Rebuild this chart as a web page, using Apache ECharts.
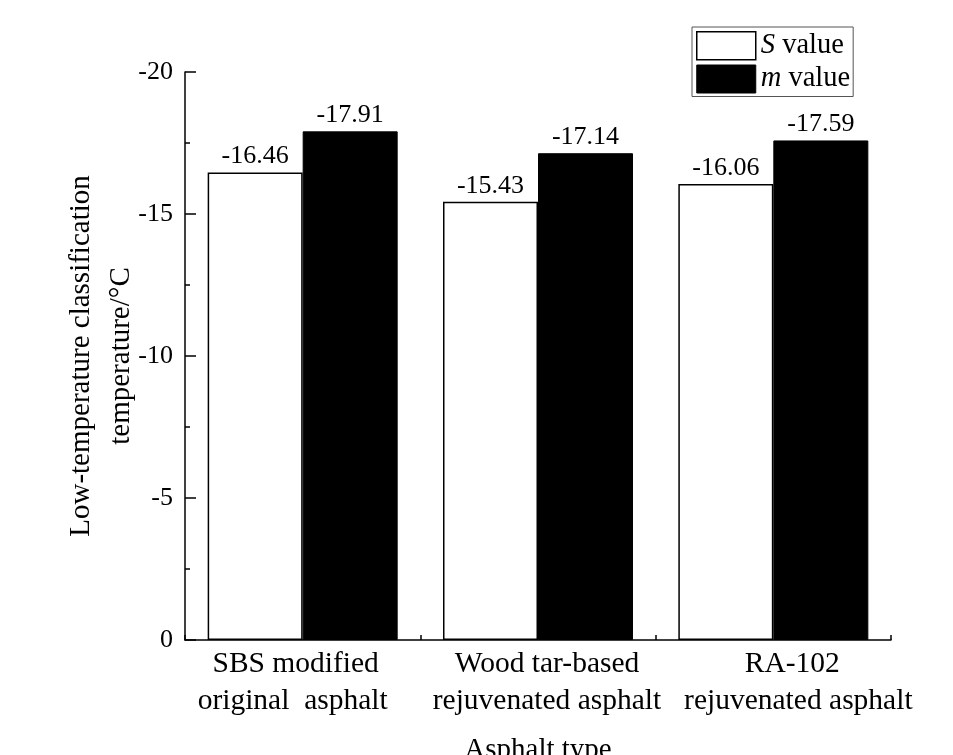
<!DOCTYPE html>
<html>
<head>
<meta charset="utf-8">
<script src="https://cdn.jsdelivr.net/npm/echarts@6/dist/echarts.min.js"></script>
<style>
html,body{margin:0;padding:0;background:#fff;}
#chart{width:953px;height:755px;}
</style>
</head>
<body>
<div id="chart"></div>
<script>
const categories = ['SBS modified\noriginal  asphalt', 'Wood tar-based\nrejuvenated asphalt', 'RA-102\nrejuvenated asphalt'];
const sValues = [-16.46, -15.43, -16.06];
const mValues = [-17.91, -17.14, -17.59];
const seriesNames = ['S value', 'm value'];
const yTicks = [-20, -15, -10, -5, 0];

const FONT = 'Liberation Serif';
const LABEL_FS = 29.5;
// horizontal nudges (px) of each label line, to mimic the reference placement
const lineShift = [[-7, -10], [9, 9], [19, 25]];

const rich = {};
lineShift.forEach((pair, ci) => {
  pair.forEach((s, li) => {
    rich['c' + ci + 'l' + li] = {
      fontFamily: FONT, fontSize: LABEL_FS, lineHeight: 37, color: '#000',
      padding: s >= 0 ? [0, 0, 0, 2 * s] : [0, -2 * s, 0, 0]
    };
  });
});

const chart = echarts.init(document.getElementById('chart'), null, {renderer: 'canvas'});

const option = {
  backgroundColor: '#fff',
  animation: false,
  textStyle: {fontFamily: FONT, color: '#000'},
  grid: {left: 185, right: 62, top: 72, bottom: 115, containLabel: false, outerBoundsMode: 'none'},
  legend: {
    orient: 'vertical',
    left: 692,
    top: 27,
    padding: [4, 3, 3, 4],
    itemGap: 4,
    itemWidth: 59,
    itemHeight: 28,
    borderColor: '#555',
    borderWidth: 1,
    selectedMode: false,
    icon: 'rect',
    formatter: function (name) {
      const parts = name.split(' ');
      return '{i|' + parts[0] + '} ' + parts.slice(1).join(' ');
    },
    textStyle: {
      fontFamily: FONT, fontSize: 28.5, color: '#000', padding: [0, 0, 0, 0],
      rich: {i: {fontFamily: FONT, fontSize: 28.5, fontStyle: 'italic', color: '#000'}}
    },
    data: [
      {name: seriesNames[0], itemStyle: {color: '#fff', borderColor: '#000', borderWidth: 1.5}},
      {name: seriesNames[1], itemStyle: {color: '#000', borderColor: '#000', borderWidth: 1}}
    ]
  },
  xAxis: {
    type: 'category',
    data: categories,
    name: 'Asphalt type',
    nameLocation: 'middle',
    nameGap: 96,
    nameMoveOverlap: false,
    nameTextStyle: {fontFamily: FONT, fontSize: 29, color: '#000'},
    axisLine: {show: true, lineStyle: {color: '#000', width: 1.5}},
    axisTick: {show: true, inside: true, length: 5, alignWithLabel: false, lineStyle: {color: '#000', width: 1.5}},
    axisLabel: {
      interval: 0, margin: 6, fontFamily: FONT, fontSize: LABEL_FS, lineHeight: 37, color: '#000',
      formatter: function (value, index) {
        return value.split('\n').map((line, li) => '{c' + index + 'l' + li + '|' + line + '}').join('\n');
      },
      rich: rich
    },
    splitLine: {show: false}
  },
  yAxis: {
    type: 'value',
    inverse: true,
    min: yTicks[0],
    max: yTicks[yTicks.length - 1],
    interval: 5,
    name: 'Low-temperature classification\ntemperature/°C',
    nameLocation: 'middle',
    nameGap: 44,
    nameMoveOverlap: false,
    nameTextStyle: {fontFamily: FONT, fontSize: 29, lineHeight: 40, color: '#000'},
    axisLine: {show: true, lineStyle: {color: '#000', width: 1.5}},
    axisTick: {show: true, inside: true, length: 11, lineStyle: {color: '#000', width: 1.5}},
    minorTick: {show: true, splitNumber: 2, length: 5, lineStyle: {color: '#000', width: 1.5}},
    axisLabel: {margin: 12, fontFamily: FONT, fontSize: 26, color: '#000'},
    splitLine: {show: false},
    minorSplitLine: {show: false}
  },
  series: [
    {
      name: seriesNames[0],
      type: 'bar',
      data: sValues,
      barWidth: 95,
      barGap: '0%',
      itemStyle: {color: '#fff', borderColor: '#000', borderWidth: 1.5},
      label: {show: true, position: 'top', distance: 3, fontFamily: FONT, fontSize: 26, color: '#000',
        formatter: p => p.value.toFixed(2)}
    },
    {
      name: seriesNames[1],
      type: 'bar',
      data: mValues,
      barWidth: 95,
      barGap: '0%',
      itemStyle: {color: '#000', borderColor: '#000', borderWidth: 1},
      label: {show: true, position: 'top', distance: 3, fontFamily: FONT, fontSize: 26, color: '#000',
        formatter: p => p.value.toFixed(2)}
    }
  ]
};
chart.setOption(option);
</script>
</body>
</html>
